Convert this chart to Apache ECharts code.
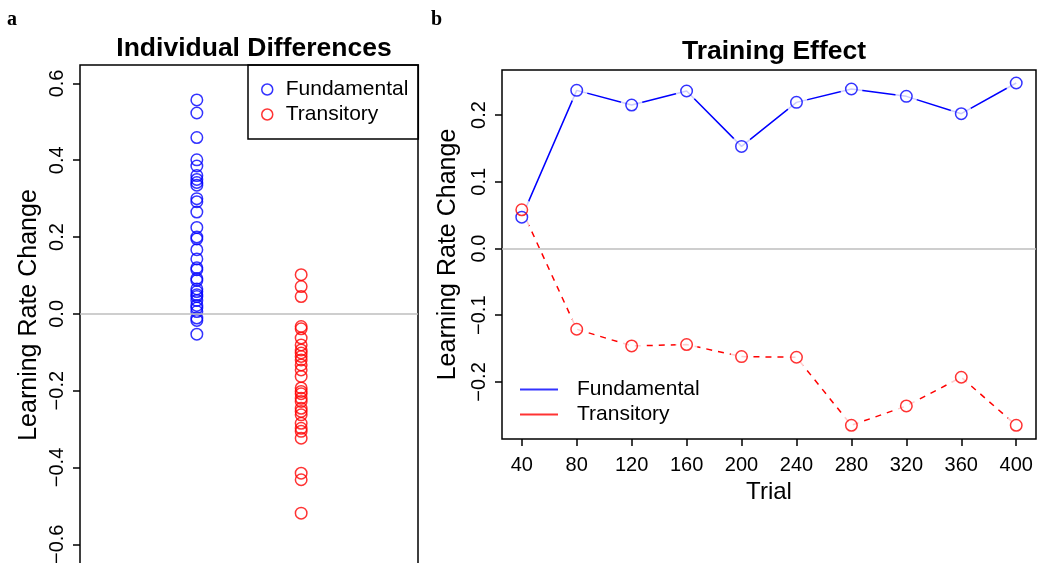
<!DOCTYPE html>
<html>
<head>
<meta charset="utf-8">
<script src="https://cdn.jsdelivr.net/npm/echarts@6/dist/echarts.min.js"></script>
<style>
  html, body { margin: 0; padding: 0; background: #ffffff; }
  #chart { width: 1037px; height: 563px; }
</style>
</head>
<body>
<div id="chart"></div>
<script>
// Panel a: per-subject learning rate change, one strip per component
const groupPos = [1, 2];
const fundamentalSubjects = [
  0.557, 0.523, 0.459, 0.401, 0.385, 0.360, 0.350, 0.342, 0.335, 0.300,
  0.292, 0.265, 0.225, 0.200, 0.195, 0.167, 0.143, 0.120, 0.115, 0.092,
  0.087, 0.065, 0.058, 0.050, 0.045, 0.035, 0.022, 0.015, 0.006, -0.011,
  -0.017, -0.053
];
const transitorySubjects = [
  0.102, 0.071, 0.045, -0.033, -0.039, -0.063, -0.081, -0.094, -0.102, -0.111,
  -0.120, -0.133, -0.146, -0.163, -0.193, -0.202, -0.208, -0.220, -0.228, -0.246,
  -0.254, -0.263, -0.285, -0.298, -0.306, -0.324, -0.415, -0.432, -0.519
];

// Panel b: mean learning rate change by trial
const trials = [40, 80, 120, 160, 200, 240, 280, 320, 360, 400];
const fundamentalByTrial = [0.047, 0.237, 0.215, 0.236, 0.153, 0.219, 0.239, 0.228, 0.202, 0.248];
const transitoryByTrial = [0.058, -0.121, -0.146, -0.144, -0.162, -0.163, -0.265, -0.236, -0.193, -0.265];

// Tick positions
const leftYTicks = [-0.6, -0.4, -0.2, 0, 0.2, 0.4, 0.6];
const rightYTicks = [-0.2, -0.1, 0, 0.1, 0.2];
const trialTicks = [40, 80, 120, 160, 200, 240, 280, 320, 360, 400];

const BLUE = '#0000ff';
const RED = '#ff0000';
const FONT = 'Liberation Sans';

const fmtSigned = v => (v < 0 ? '\u2212' : '') + Math.abs(v).toFixed(1);

const zeroLine = {
  silent: true,
  symbol: 'none',
  label: { show: false },
  lineStyle: { color: '#bebebe', width: 1.5, type: 'solid' },
  data: [{ yAxis: 0 }]
};

function ringStyle(color) {
  return { color: 'rgba(0,0,0,0)', borderColor: color, borderWidth: 1.5 };
}

function yAxisBase(ticks, min, max, gridIndex) {
  return {
    type: 'value', gridIndex, min, max,
    name: 'Learning Rate Change',
    nameLocation: 'middle', nameRotate: 90, nameGap: 38,
    nameTextStyle: { fontFamily: FONT, fontSize: 25, color: '#000' },
    axisLine: { show: false, onZero: false },
    splitLine: { show: false },
    axisTick: { show: true, customValues: ticks, length: 7, lineStyle: { color: '#000', width: 1.5 } },
    axisLabel: { show: true, customValues: ticks, rotate: 90, margin: 13, formatter: fmtSigned,
                 fontFamily: FONT, fontSize: 20, color: '#000' }
  };
}

const chart = echarts.init(document.getElementById('chart'), null, { renderer: 'canvas' });

chart.setOption({
  animation: false,
  backgroundColor: '#ffffff',
  title: [
    { text: 'a', left: 7, top: 10, padding: 0, textStyle: { fontFamily: 'Liberation Serif', fontWeight: 'bold', fontSize: 20, color: '#000' } },
    { text: 'b', left: 431, top: 10, padding: 0, textStyle: { fontFamily: 'Liberation Serif', fontWeight: 'bold', fontSize: 20, color: '#000' } },
    { text: 'Individual Differences', left: 249, textAlign: 'center', top: 30,
      textStyle: { fontFamily: FONT, fontWeight: 'bold', fontSize: 26.5, color: '#000' } },
    { text: 'Training Effect', left: 769, textAlign: 'center', top: 33,
      textStyle: { fontFamily: FONT, fontWeight: 'bold', fontSize: 26.5, color: '#000' } }
  ],
  legend: [
    {
      left: 248, top: 65, orient: 'vertical',
      padding: [12, 10, 12, 13],
      borderColor: '#000', borderWidth: 1.5,
      itemWidth: 11, itemHeight: 11, itemGap: 0,
      textStyle: { fontFamily: FONT, fontSize: 21, color: '#000', lineHeight: 25, padding: [0, 0, 0, 8] },
      data: [
        { name: 'Fundamental', icon: 'circle', itemStyle: ringStyle(BLUE) },
        { name: 'Transitory', icon: 'circle', itemStyle: ringStyle(RED) }
      ],
      selectedMode: false
    },
    {
      left: 520, top: 377, orient: 'vertical',
      padding: 0,
      itemWidth: 38, itemHeight: 2, itemGap: 0,
      textStyle: { fontFamily: FONT, fontSize: 21, color: '#000', lineHeight: 25, padding: [0, 0, 0, 14] },
      data: [
        { name: 'Fundamental', icon: 'rect', itemStyle: { color: BLUE, borderWidth: 0 } },
        { name: 'Transitory', icon: 'rect', itemStyle: { color: RED, borderWidth: 0 } }
      ],
      selectedMode: false
    }
  ],
  grid: [
    { left: 80, top: 65, width: 338, height: 500, show: true, outerBoundsMode: 'none',
      borderColor: '#000', borderWidth: 1.5, backgroundColor: 'transparent' },
    { left: 502, top: 70, width: 534, height: 369, show: true, outerBoundsMode: 'none',
      borderColor: '#000', borderWidth: 1.5, backgroundColor: 'transparent' }
  ],
  xAxis: [
    { type: 'value', gridIndex: 0, min: -0.12, max: 3.12, show: false, axisLine: { onZero: false } },
    {
      type: 'value', gridIndex: 1, min: 25.6, max: 414.4,
      name: 'Trial', nameLocation: 'middle', nameGap: 40,
      nameTextStyle: { fontFamily: FONT, fontSize: 24, color: '#000' },
      axisLine: { show: false, onZero: false },
      splitLine: { show: false },
      axisTick: { show: true, customValues: trialTicks, length: 7, lineStyle: { color: '#000', width: 1.5 } },
      axisLabel: { show: true, customValues: trialTicks, margin: 16, fontFamily: FONT, fontSize: 20, color: '#000' }
    }
  ],
  yAxis: [
    yAxisBase(leftYTicks, -0.654, 0.648, 0),
    yAxisBase(rightYTicks, -0.2855, 0.2675, 1)
  ],
  series: [
    {
      name: 'Fundamental', type: 'scatter', xAxisIndex: 0, yAxisIndex: 0,
      symbol: 'circle', symbolSize: 11.5, itemStyle: ringStyle(BLUE), z: 4,
      data: fundamentalSubjects.map(v => [groupPos[0], v]),
      markLine: zeroLine
    },
    {
      name: 'Transitory', type: 'scatter', xAxisIndex: 0, yAxisIndex: 0,
      symbol: 'circle', symbolSize: 11.5, itemStyle: ringStyle(RED), z: 4,
      data: transitorySubjects.map(v => [groupPos[1], v])
    },
    {
      name: 'Fundamental', type: 'line', xAxisIndex: 1, yAxisIndex: 1,
      showSymbol: false, z: 2,
      lineStyle: { color: BLUE, width: 1.5, type: 'solid' },
      itemStyle: { color: BLUE },
      data: trials.map((t, i) => [t, fundamentalByTrial[i]]),
      markLine: zeroLine
    },
    {
      name: 'Transitory', type: 'line', xAxisIndex: 1, yAxisIndex: 1,
      showSymbol: false, z: 2,
      lineStyle: { color: RED, width: 1.5, type: [6, 6] },
      itemStyle: { color: RED },
      data: trials.map((t, i) => [t, transitoryByTrial[i]])
    },
    // white discs leave a gap in each line around its points
    {
      name: 'gapF', type: 'scatter', xAxisIndex: 1, yAxisIndex: 1, silent: true,
      symbol: 'circle', symbolSize: 22, itemStyle: { color: '#ffffff' }, z: 3,
      data: trials.map((t, i) => [t, fundamentalByTrial[i]])
    },
    {
      name: 'gapT', type: 'scatter', xAxisIndex: 1, yAxisIndex: 1, silent: true,
      symbol: 'circle', symbolSize: 22, itemStyle: { color: '#ffffff' }, z: 3,
      data: trials.map((t, i) => [t, transitoryByTrial[i]])
    },
    {
      name: 'Fundamental', type: 'scatter', xAxisIndex: 1, yAxisIndex: 1,
      symbol: 'circle', symbolSize: 11.5, itemStyle: ringStyle(BLUE), z: 4,
      data: trials.map((t, i) => [t, fundamentalByTrial[i]])
    },
    {
      name: 'Transitory', type: 'scatter', xAxisIndex: 1, yAxisIndex: 1,
      symbol: 'circle', symbolSize: 11.5, itemStyle: ringStyle(RED), z: 4,
      data: trials.map((t, i) => [t, transitoryByTrial[i]])
    }
  ]
});
</script>
</body>
</html>
